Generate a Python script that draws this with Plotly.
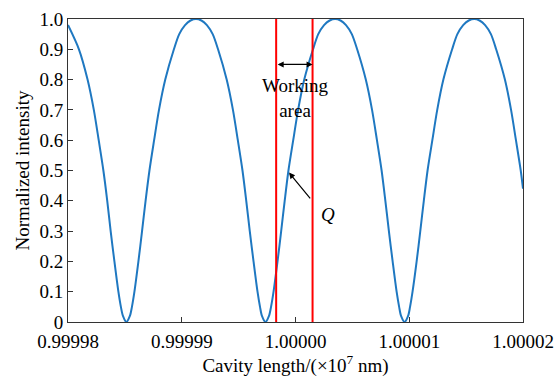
import plotly.graph_objects as go

# Cavity length (x10^7 nm) and normalized intensity
cavity = [
    0.99998000, 0.99998096, 0.99998172, 0.99998227, 0.99998270, 0.99998311, 0.99998345,
    0.99998375, 0.99998408, 0.99998443, 0.99998465, 0.99998483, 0.99998513,
    0.99998544, 0.99998562, 0.99998584, 0.99998619, 0.99998651, 0.99998682, 0.99998716,
    0.99998757, 0.99998800, 0.99998855, 0.99998931, 0.99998978, 0.99999029, 0.99999077,
    0.99999125,
    0.99999173, 0.99999221, 0.99999272, 0.99999319, 0.99999395, 0.99999450, 0.99999493,
    0.99999534, 0.99999567, 0.99999598, 0.99999631, 0.99999666, 0.99999688, 0.99999705,
    0.99999736,
    0.99999767, 0.99999785, 0.99999807, 0.99999842, 0.99999874, 0.99999905, 0.99999938,
    0.99999980, 1.00000023, 1.00000077, 1.00000154, 1.00000200, 1.00000251, 1.00000300,
    1.00000348,
    1.00000396, 1.00000444, 1.00000495, 1.00000542, 1.00000618, 1.00000673, 1.00000716,
    1.00000757, 1.00000790, 1.00000821, 1.00000854, 1.00000889, 1.00000911, 1.00000928,
    1.00000959,
    1.00000990, 1.00001007, 1.00001029, 1.00001065, 1.00001097, 1.00001128, 1.00001161,
    1.00001203, 1.00001246, 1.00001300, 1.00001377, 1.00001423, 1.00001474, 1.00001523,
    1.00001571,
    1.00001618, 1.00001667, 1.00001718, 1.00001764, 1.00001841, 1.00001895, 1.00001938,
    1.00001980, 1.00002000]
intensity = [
    0.98, 0.9, 0.8, 0.7, 0.6, 0.5, 0.4, 0.3, 0.2, 0.1, 0.05, 0.02, 0.0,
    0.02, 0.05, 0.1, 0.2, 0.3, 0.4, 0.5, 0.6, 0.7, 0.8, 0.9, 0.95, 0.98, 0.995, 1.0,
    0.995, 0.98, 0.95, 0.9, 0.8, 0.7, 0.6, 0.5, 0.4, 0.3, 0.2, 0.1, 0.05, 0.02, 0.0,
    0.02, 0.05, 0.1, 0.2, 0.3, 0.4, 0.5, 0.6, 0.7, 0.8, 0.9, 0.95, 0.98, 0.995, 1.0,
    0.995, 0.98, 0.95, 0.9, 0.8, 0.7, 0.6, 0.5, 0.4, 0.3, 0.2, 0.1, 0.05, 0.02, 0.0,
    0.02, 0.05, 0.1, 0.2, 0.3, 0.4, 0.5, 0.6, 0.7, 0.8, 0.9, 0.95, 0.98, 0.995, 1.0,
    0.995, 0.98, 0.95, 0.9, 0.8, 0.7, 0.6, 0.5, 0.44]

working_left = 0.9999983
working_right = 1.0000015
arrow_level = 0.85
q_point = (0.99999943, 0.493)
q_tail = (1.0000014, 0.403)
q_label = (1.0000029, 0.355)
working_label = (1.0000000, 0.738)

x_ticks = [0.99998, 0.99999, 1.00000, 1.00001, 1.00002]
x_ticktext = ["0.99998", "0.99999", "1.00000", "1.00001", "1.00002"]
y_ticks = [0, 0.1, 0.2, 0.3, 0.4, 0.5, 0.6, 0.7, 0.8, 0.9, 1.0]
y_ticktext = ["0", "0.1", "0.2", "0.3", "0.4", "0.5", "0.6", "0.7", "0.8", "0.9", "1.0"]

FONT = "Liberation Serif, Times New Roman, serif"

fig = go.Figure()
fig.add_trace(go.Scatter(x=cavity, y=intensity, mode="lines", line_shape="spline",
                         line=dict(color="#1f78c1", width=2, smoothing=0.8), showlegend=False))
for xv in (working_left, working_right):
    fig.add_trace(go.Scatter(x=[xv, xv], y=[0, 1], mode="lines",
                             line=dict(color="#ff0000", width=2), showlegend=False))

# double-headed arrow between the red lines
fig.add_annotation(x=working_right, y=arrow_level, ax=working_left, ay=arrow_level,
                   xref="x", yref="y", axref="x", ayref="y", text="",
                   showarrow=True, arrowhead=2, arrowside="end+start", arrowsize=1,
                   arrowwidth=1.2, arrowcolor="black")
fig.add_annotation(x=working_label[0], y=working_label[1], text="Working<br>area",
                   showarrow=False, font=dict(family=FONT, size=19, color="black"))
fig.add_annotation(x=q_point[0], y=q_point[1], ax=q_tail[0], ay=q_tail[1],
                   xref="x", yref="y", axref="x", ayref="y", text="",
                   showarrow=True, arrowhead=2, arrowsize=1, arrowwidth=1.2,
                   arrowcolor="black")
fig.add_annotation(x=q_label[0], y=q_label[1], text="<i>Q</i>", showarrow=False,
                   font=dict(family=FONT, size=19, color="black"))

fig.update_layout(
    width=560, height=377,
    margin=dict(l=68, r=37, t=19, b=55, autoexpand=False),
    paper_bgcolor="white", plot_bgcolor="white",
    font=dict(family=FONT, size=19, color="black"),
)
fig.update_xaxes(range=[0.99998, 1.00002], tickvals=x_ticks, ticktext=x_ticktext,
                 ticks="inside", ticklen=5, tickcolor="#333", showgrid=False, zeroline=False,
                 showline=True, linecolor="#333", linewidth=1, mirror=True,
                 ticklabelstandoff=2, automargin=False,
                 title=dict(text="Cavity length/(×10<sup>7</sup> nm)", standoff=5,
                            font=dict(family=FONT, size=19)),
                 tickfont=dict(family=FONT, size=19))
fig.update_yaxes(range=[0, 1], tickvals=y_ticks, ticktext=y_ticktext,
                 ticks="inside", ticklen=5, tickcolor="#333", showgrid=False, zeroline=False,
                 showline=True, linecolor="#333", linewidth=1, mirror=True,
                 automargin=False,
                 title=dict(text="Normalized intensity", standoff=4,
                            font=dict(family=FONT, size=19)),
                 tickfont=dict(family=FONT, size=19))

fig.write_html("out.html")
